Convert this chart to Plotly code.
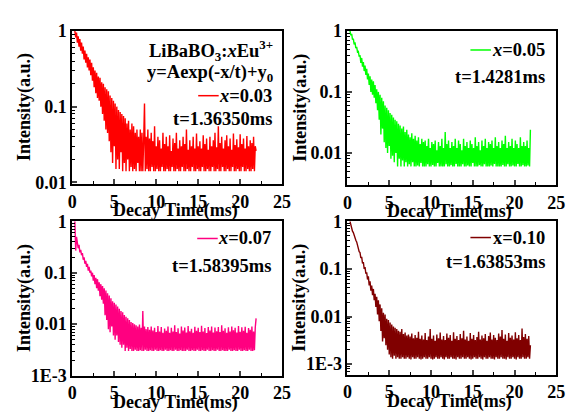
import plotly.graph_objects as go

TIME = [0.3,0.4,0.5,0.6,0.7,0.8,0.9,1.0,1.1,1.2,
        1.3,1.4,1.5,1.6,1.7,1.8,1.9,2.0,2.1,2.2,
        2.3,2.4,2.5,2.6,2.7,2.8,2.9,3.0,3.1,3.2,
        3.3,3.4,3.5,3.6,3.7,3.8,3.9,4.0,4.1,4.2,
        4.3,4.4,4.5,4.6,4.7,4.8,4.9,5.0,5.1,5.2,
        5.3,5.4,5.5,5.6,5.7,5.8,5.9,6.0,6.1,6.2,
        6.3,6.4,6.5,6.6,6.7,6.8,6.9,7.0,7.1,7.2,
        7.3,7.4,7.5,7.6,7.7,7.8,7.9,8.0,8.1,8.2,
        8.3,8.4,8.5,8.6,8.7,8.8,8.9,9.0,9.1,9.2,
        9.3,9.4,9.5,9.6,9.7,9.8,9.9,10.0,10.1,10.2,
        10.3,10.4,10.5,10.6,10.7,10.8,10.9,11.0,11.1,11.2,
        11.3,11.4,11.5,11.6,11.7,11.8,11.9,12.0,12.1,12.2,
        12.3,12.4,12.5,12.6,12.7,12.8,12.9,13.0,13.1,13.2,
        13.3,13.4,13.5,13.6,13.7,13.8,13.9,14.0,14.1,14.2,
        14.3,14.4,14.5,14.6,14.7,14.8,14.9,15.0,15.1,15.2,
        15.3,15.4,15.5,15.6,15.7,15.8,15.9,16.0,16.1,16.2,
        16.3,16.4,16.5,16.6,16.7,16.8,16.9,17.0,17.1,17.2,
        17.3,17.4,17.5,17.6,17.7,17.8,17.9,18.0,18.1,18.2,
        18.3,18.4,18.5,18.6,18.7,18.8,18.9,19.0,19.1,19.2,
        19.3,19.4,19.5,19.6,19.7,19.8,19.9,20.0,20.1,20.2,
        20.3,20.4,20.5,20.6,20.7,20.8,20.9,21.0,21.1,21.2,
        21.3,21.4,21.5,21.6,21.7,21.8,21.9]

Y_003 = [1.0,0.82,0.95,0.7,0.85,0.62,0.78,0.55,0.7,0.5,
         0.62,0.42,0.55,0.38,0.5,0.33,0.45,0.3,0.42,0.26,
         0.38,0.22,0.33,0.18,0.3,0.15,0.28,0.13,0.25,0.12,
         0.24,0.1,0.21,0.08,0.2,0.065,0.18,0.05,0.17,0.045,
         0.16,0.035,0.14,0.025,0.13,0.018,0.12,0.03,0.11,0.015,
         0.1,0.02,0.09,0.015,0.085,0.025,0.08,0.014,0.075,0.018,
         0.07,0.014,0.06,0.02,0.065,0.014,0.05,0.016,0.06,0.014,
         0.055,0.015,0.045,0.014,0.05,0.018,0.04,0.014,0.05,0.014,
         0.045,0.014,0.035,0.11,0.014,0.04,0.015,0.05,0.014,0.038,
         0.014,0.045,0.016,0.035,0.014,0.055,0.014,0.03,0.015,0.04,
         0.014,0.036,0.014,0.028,0.016,0.045,0.014,0.032,0.014,0.04,
         0.015,0.03,0.014,0.042,0.014,0.026,0.016,0.038,0.014,0.033,
         0.014,0.045,0.015,0.028,0.014,0.036,0.014,0.03,0.016,0.04,
         0.014,0.032,0.014,0.05,0.015,0.027,0.014,0.036,0.014,0.03,
         0.016,0.04,0.014,0.028,0.014,0.044,0.015,0.03,0.014,0.035,
         0.014,0.028,0.016,0.042,0.014,0.032,0.014,0.038,0.015,0.027,
         0.014,0.04,0.014,0.03,0.016,0.036,0.014,0.045,0.014,0.029,
         0.015,0.055,0.014,0.033,0.014,0.04,0.016,0.028,0.014,0.036,
         0.014,0.042,0.015,0.03,0.014,0.038,0.014,0.027,0.016,0.044,
         0.014,0.031,0.014,0.037,0.015,0.029,0.014,0.043,0.014,0.032,
         0.016,0.038,0.014,0.028,0.014,0.041,0.015,0.03,0.014,0.036,
         0.014,0.033,0.015,0.04,0.014,0.03,0.026]

Y_005 = [1.0,0.85,0.9,0.72,0.75,0.6,0.65,0.52,0.55,0.45,
         0.46,0.38,0.4,0.3,0.36,0.26,0.31,0.22,0.27,0.19,
         0.24,0.16,0.2,0.13,0.18,0.1,0.16,0.09,0.15,0.08,
         0.13,0.065,0.11,0.05,0.1,0.035,0.09,0.02,0.08,0.025,
         0.07,0.015,0.06,0.012,0.055,0.01,0.05,0.013,0.045,0.008,
         0.042,0.009,0.038,0.007,0.035,0.01,0.033,0.006,0.03,0.008,
         0.028,0.006,0.025,0.0075,0.027,0.006,0.022,0.007,0.024,0.006,
         0.02,0.0065,0.018,0.006,0.021,0.007,0.017,0.006,0.019,0.006,
         0.016,0.0062,0.018,0.006,0.014,0.0068,0.017,0.006,0.015,0.006,
         0.016,0.006,0.013,0.0065,0.017,0.006,0.012,0.006,0.015,0.0063,
         0.014,0.006,0.016,0.006,0.011,0.0068,0.015,0.006,0.013,0.006,
         0.017,0.006,0.012,0.006,0.022,0.0065,0.014,0.006,0.016,0.006,
         0.012,0.0063,0.015,0.006,0.013,0.006,0.017,0.0066,0.012,0.006,
         0.016,0.006,0.014,0.006,0.011,0.0065,0.017,0.006,0.013,0.006,
         0.015,0.0062,0.012,0.006,0.016,0.006,0.014,0.0068,0.012,0.006,
         0.018,0.006,0.013,0.006,0.015,0.0063,0.011,0.006,0.016,0.006,
         0.013,0.0065,0.017,0.006,0.012,0.006,0.015,0.006,0.014,0.0062,
         0.016,0.006,0.012,0.0066,0.018,0.006,0.013,0.006,0.015,0.006,
         0.012,0.006,0.016,0.0063,0.014,0.006,0.019,0.006,0.012,0.0065,
         0.015,0.006,0.013,0.006,0.017,0.0062,0.012,0.006,0.016,0.006,
         0.014,0.0066,0.012,0.006,0.018,0.006,0.013,0.0063,0.015,0.006,
         0.013,0.006,0.016,0.0062,0.012,0.006,0.024]

Y_007 = [1.0,0.27,0.5,0.4,0.3,0.35,0.25,0.28,0.22,0.24,
         0.18,0.2,0.15,0.17,0.13,0.15,0.11,0.13,0.1,0.11,
         0.085,0.1,0.07,0.09,0.06,0.08,0.05,0.075,0.045,0.065,
         0.035,0.06,0.03,0.055,0.025,0.05,0.015,0.045,0.012,0.04,
         0.008,0.036,0.007,0.032,0.009,0.028,0.006,0.026,0.005,0.024,
         0.006,0.022,0.0045,0.02,0.004,0.018,0.0035,0.017,0.004,0.015,
         0.003,0.014,0.0035,0.013,0.003,0.012,0.0033,0.011,0.003,0.0105,
         0.003,0.01,0.0032,0.0095,0.003,0.009,0.003,0.0098,0.0031,0.0085,
         0.003,0.018,0.003,0.009,0.0032,0.008,0.003,0.0088,0.003,0.0078,
         0.0031,0.009,0.003,0.0075,0.003,0.0085,0.0032,0.007,0.003,0.0092,
         0.003,0.0072,0.0031,0.0088,0.003,0.0068,0.003,0.0082,0.0032,0.0074,
         0.003,0.009,0.003,0.0068,0.0031,0.0085,0.003,0.0072,0.003,0.0095,
         0.0032,0.007,0.003,0.0083,0.003,0.0066,0.0031,0.009,0.003,0.0075,
         0.003,0.0086,0.003,0.0069,0.0032,0.0092,0.003,0.0073,0.003,0.0081,
         0.0031,0.0068,0.003,0.0089,0.003,0.0074,0.0032,0.0085,0.003,0.007,
         0.003,0.0093,0.0031,0.0072,0.003,0.0084,0.003,0.0067,0.0032,0.0088,
         0.003,0.0075,0.003,0.009,0.0031,0.0069,0.003,0.0086,0.003,0.0073,
         0.0032,0.0088,0.003,0.007,0.003,0.0095,0.0031,0.0074,0.003,0.0083,
         0.003,0.0068,0.003,0.0087,0.0032,0.0072,0.003,0.009,0.003,0.0076,
         0.0031,0.0085,0.003,0.0069,0.003,0.0092,0.0032,0.0071,0.003,0.0087,
         0.003,0.0074,0.0031,0.0089,0.003,0.0068,0.003,0.0084,0.0032,0.0078,
         0.003,0.009,0.003,0.0072,0.0031,0.0086,0.013]

Y_010 = [1.0,0.8,0.75,0.62,0.58,0.5,0.46,0.4,0.37,0.31,
         0.28,0.23,0.22,0.17,0.18,0.13,0.14,0.1,0.11,0.08,
         0.085,0.06,0.07,0.045,0.055,0.035,0.045,0.028,0.038,0.022,
         0.03,0.016,0.026,0.011,0.022,0.008,0.018,0.005,0.015,0.003,
         0.012,0.0035,0.011,0.0025,0.009,0.002,0.0085,0.0016,0.0075,0.0014,
         0.0068,0.0013,0.0062,0.0015,0.0058,0.0013,0.0055,0.0014,0.005,0.0013,
         0.0048,0.0013,0.0055,0.0014,0.0043,0.0013,0.0046,0.0013,0.004,0.0014,
         0.0042,0.0013,0.0038,0.00126,0.0044,0.0014,0.0035,0.0013,0.0041,0.0013,
         0.0036,0.0014,0.0048,0.0013,0.0034,0.00126,0.004,0.0013,0.0033,0.0014,
         0.0045,0.0013,0.0032,0.0013,0.0038,0.0014,0.0055,0.0013,0.0034,0.00126,
         0.004,0.0013,0.0031,0.0014,0.0042,0.0013,0.0035,0.0013,0.0046,0.0014,
         0.0033,0.0013,0.0039,0.00126,0.0032,0.0014,0.0044,0.0013,0.0036,0.0013,
         0.0041,0.0014,0.0031,0.0013,0.0047,0.0013,0.0034,0.00126,0.0039,0.0014,
         0.0032,0.0013,0.0043,0.0013,0.0035,0.0014,0.005,0.0013,0.0033,0.0013,
         0.0038,0.0014,0.0031,0.0013,0.0045,0.00126,0.0034,0.0013,0.0041,0.0014,
         0.0032,0.0013,0.0037,0.0013,0.0048,0.0014,0.0033,0.0013,0.004,0.00126,
         0.0035,0.0014,0.0043,0.0013,0.0031,0.0013,0.0039,0.0014,0.0046,0.0013,
         0.0033,0.0013,0.0041,0.00126,0.0036,0.0014,0.0032,0.0013,0.0044,0.0013,
         0.0038,0.0014,0.0052,0.0013,0.0034,0.0013,0.0042,0.00126,0.0031,0.0014,
         0.0045,0.0013,0.0036,0.0013,0.004,0.0014,0.0033,0.0013,0.0047,0.00126,
         0.0035,0.0014,0.0041,0.0013,0.0032,0.0013,0.0056,0.0014,0.0037,0.0013,
         0.0043,0.0013,0.0034,0.0014,0.0039,0.0013,0.0025]

SERIES = [Y_003, Y_005, Y_007, Y_010]
COLORS = ["#FF0000", "#00FF00", "#FF0080", "#800000"]
LEGEND = ["<i>x</i>=0.03", "<i>x</i>=0.05", "<i>x</i>=0.07", "x=0.10"]
TAUS = ["t=1.36350ms", "t=1.4281ms", "t=1.58395ms", "t=1.63853ms"]
YRANGES = [[-2.025, 0], [-2.53, 0], [-3.0, 0], [-3.22, 0]]
YTICKVALS = [[1, 0.1, 0.01], [1, 0.1, 0.01], [1, 0.1, 0.01, 0.001], [1, 0.1, 0.01, 0.001]]
YTICKTEXT = [["1", "0.1", "0.01"], ["1", "0.1", "0.01"], ["1", "0.1", "0.01", "1E-3"], ["1", "0.1", "0.01", "1E-3"]]

W, H = 577, 417
# pixel boxes (left, right, top, bottom)
BOXES = [(69, 284, 22, 183), (351, 565, 22, 184), (69, 284, 222, 384), (351, 565, 222, 383)]

FONT = "Liberation Serif"
fig = go.Figure()
minor_vals = [m * 10 ** e for e in range(-4, 1) for m in range(2, 10)]


def bold(size):
    return dict(family=FONT, size=size, color="black", weight="bold")


for i, (ys, col) in enumerate(zip(SERIES, COLORS)):
    n = min(len(TIME), len(ys))
    sfx = "" if i == 0 else str(i + 1)
    fig.add_trace(go.Scatter(x=TIME[:n], y=ys[:n], mode="lines",
                             line=dict(color=col, width=1.4),
                             xaxis="x" + sfx, yaxis="y" + sfx, showlegend=False))
    l, r, t, b = BOXES[i]
    xd = [l / W, r / W]
    yd = [1 - b / H, 1 - t / H]
    fig.layout["xaxis" + sfx] = dict(
        domain=xd, anchor="y" + sfx, range=[0, 25], tickvals=[0, 5, 10, 15, 20, 25],
        ticks="inside", ticklen=5, tickwidth=1.5, showline=True, linewidth=1.8,
        linecolor="black", mirror=True, showgrid=False, zeroline=False,
        tickfont=bold(18),
        minor=dict(tickvals=[2.5, 7.5, 12.5, 17.5, 22.5], ticks="inside", ticklen=3,
                   tickwidth=1.2, tickcolor="black", showgrid=False),
    )
    fig.layout["yaxis" + sfx] = dict(
        domain=yd, anchor="x" + sfx, type="log", range=YRANGES[i],
        tickvals=YTICKVALS[i], ticktext=YTICKTEXT[i],
        ticks="inside", ticklen=5, tickwidth=1.5, showline=True, linewidth=1.8,
        linecolor="black", mirror=True, showgrid=False, zeroline=False,
        tickfont=bold(18),
        minor=dict(tickvals=minor_vals, ticks="inside", ticklen=3, tickwidth=1,
                   tickcolor="black", showgrid=False),
    )
    # axis titles
    fig.add_annotation(xref="paper", yref="paper", x=(l - 49) / W, y=1 - ((t + b) / 2) / H,
                       xanchor="center", yanchor="middle",
                       text="Intensity(a.u.)", textangle=-90, showarrow=False,
                       font=bold(18))
    fig.add_annotation(xref="paper", yref="paper", x=((l + r) / 2 - 2) / W, y=1 - (b + 28) / H,
                       xanchor="center", yanchor="middle",
                       text="Decay Time(ms)", showarrow=False, font=bold(18))

# legend samples and labels (pixel positions)
LEG_Y = [90, 42, 240, 239]
TAU_Y = [115, 70, 269, 265]
RIGHT = [276, 555, 275, 555]
for i in range(4):
    lx0 = RIGHT[i] - 78
    fig.add_shape(type="line", xref="paper", yref="paper",
                  x0=lx0 / W, x1=(lx0 + 21) / W, y0=1 - LEG_Y[i] / H, y1=1 - LEG_Y[i] / H,
                  line=dict(color=COLORS[i], width=1.5))
    fig.add_annotation(xref="paper", yref="paper", x=RIGHT[i] / W, y=1 - LEG_Y[i] / H,
                       xanchor="right", yanchor="middle", text=LEGEND[i], showarrow=False,
                       font=bold(18.5))
    fig.add_annotation(xref="paper", yref="paper", x=RIGHT[i] / W, y=1 - TAU_Y[i] / H,
                       xanchor="right", yanchor="middle", text=TAUS[i], showarrow=False,
                       font=bold(18.5))

fig.add_annotation(xref="paper", yref="paper", x=277 / W, y=1 - 43 / H, xanchor="right",
                   yanchor="middle", text="LiBaBO<sub>3</sub>:<i>x</i>Eu<sup>3+</sup>",
                   showarrow=False, font=bold(18.5))
fig.add_annotation(xref="paper", yref="paper", x=277 / W, y=1 - 67 / H, xanchor="right",
                   yanchor="middle", text="y=Aexp(-x/t)+y<sub>0</sub>",
                   showarrow=False, font=bold(18.5))

fig.update_layout(width=W, height=H, margin=dict(l=0, r=0, t=0, b=0),
                  paper_bgcolor="white", plot_bgcolor="white")
fig.write_html("out.html")
